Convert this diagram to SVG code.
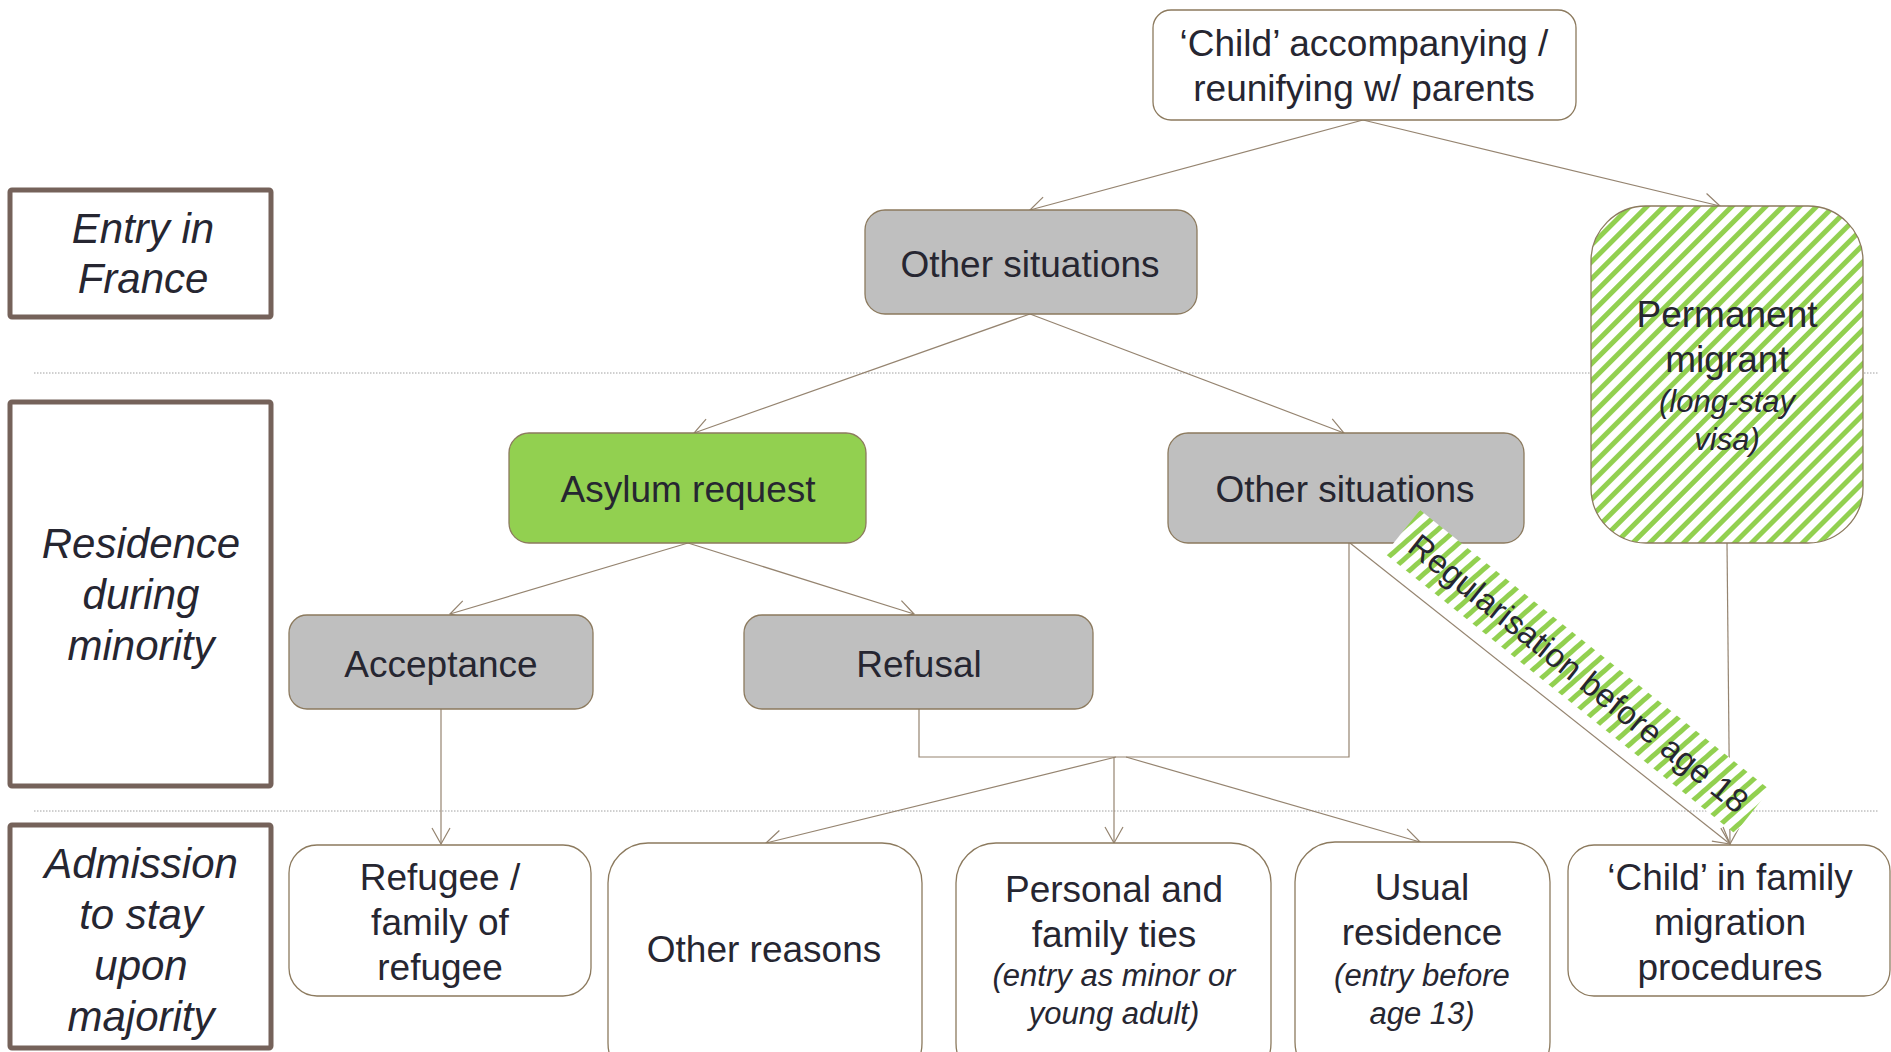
<svg xmlns="http://www.w3.org/2000/svg" width="1891" height="1052" viewBox="0 0 1891 1052">
<defs>
<style>
.t{font-family:"Liberation Sans",Arial,sans-serif;fill:#262631;text-anchor:middle;font-size:37px}
.i{font-style:italic;font-size:31px}
.lbl{font-family:"Liberation Sans",Arial,sans-serif;fill:#262631;text-anchor:middle;font-size:42px;font-style:italic}
.box{stroke:#8C7A5E;stroke-width:1.3}
.gray{fill:#BFBFBF}
.white{fill:#FFFFFF}
.lab{fill:#FFFFFF;stroke:#75625A;stroke-width:5}
.con{fill:none;stroke:#958470;stroke-width:1.2}
.dot{stroke:#A0A0A0;stroke-width:1;stroke-dasharray:1.5 1.5}
</style>
<marker id="arr" markerUnits="userSpaceOnUse" markerWidth="24" markerHeight="24" viewBox="-20 -12 24 24" refX="0" refY="0" orient="auto">
<path d="M-16,-9 L0,0 L-16,9" fill="none" stroke="#958470" stroke-width="1.2"/>
</marker>
<pattern id="stripes" patternUnits="userSpaceOnUse" width="12" height="12" patternTransform="rotate(45)">
<rect width="12" height="12" fill="#FFFFFF"/>
<rect width="5" height="12" fill="#92D050"/>
</pattern>
<pattern id="bandStripes" patternUnits="userSpaceOnUse" width="12" height="12" patternTransform="rotate(10)">
<rect width="12" height="12" fill="#FFFFFF"/>
<rect width="5" height="12" fill="#92D050"/>
</pattern>
</defs>

<g id="guides">
<line class="dot" x1="34" y1="373" x2="1878" y2="373"/>
<line class="dot" x1="34" y1="811" x2="1878" y2="811"/>
</g>

<g id="connectors">
<path class="con" d="M1363,120 L1030,210" marker-end="url(#arr)"/>
<path class="con" d="M1363,120 L1720,206" marker-end="url(#arr)"/>
<path class="con" d="M1030,314 L694,433" marker-end="url(#arr)"/>
<path class="con" d="M1030,314 L1344,433" marker-end="url(#arr)"/>
<path class="con" d="M688,543 L450,614" marker-end="url(#arr)"/>
<path class="con" d="M688,543 L914,614" marker-end="url(#arr)"/>
<path class="con" d="M441,709 L441,844" marker-end="url(#arr)"/>
<path class="con" d="M919,709 L919,757 L1349,757 L1349,543"/>
<path class="con" d="M1116,757 L766,843" marker-end="url(#arr)"/>
<path class="con" d="M1114,757 L1114,843" marker-end="url(#arr)"/>
<path class="con" d="M1126,757 L1420,842" marker-end="url(#arr)"/>
<path class="con" d="M1350,543 L1730,844" marker-end="url(#arr)"/>
<path class="con" d="M1727,543 L1730,844" marker-end="url(#arr)"/>
</g>

<g id="label-entry">
<rect class="lab" x="10" y="190" width="261" height="127" rx="2"/>
<text class="lbl" x="143" y="243">Entry in</text>
<text class="lbl" x="143" y="293">France</text>
</g>
<g id="label-residence">
<rect class="lab" x="10" y="402" width="261" height="384" rx="2"/>
<text class="lbl" x="141" y="558">Residence</text>
<text class="lbl" x="141" y="609">during</text>
<text class="lbl" x="141" y="660">minority</text>
</g>
<g id="label-admission">
<rect class="lab" x="10" y="825" width="261" height="223" rx="2"/>
<text class="lbl" x="141" y="878">Admission</text>
<text class="lbl" x="141" y="929">to stay</text>
<text class="lbl" x="141" y="980">upon</text>
<text class="lbl" x="141" y="1031">majority</text>
</g>

<g id="node-child">
<rect class="box white" x="1153" y="10" width="423" height="110" rx="18"/>
<text class="t" x="1364" y="56">‘Child’ accompanying /</text>
<text class="t" x="1364" y="101">reunifying w/ parents</text>
</g>
<g id="node-other1">
<rect class="box gray" x="865" y="210" width="332" height="104" rx="20"/>
<text class="t" x="1030" y="277">Other situations</text>
</g>
<g id="node-permanent">
<rect class="box" fill="url(#stripes)" x="1591" y="206" width="272" height="337" rx="55"/>
<text class="t" x="1727" y="327">Permanent</text>
<text class="t" x="1727" y="372">migrant</text>
<text class="t i" x="1727" y="412">(long-stay</text>
<text class="t i" x="1727" y="450">visa)</text>
</g>
<g id="node-asylum">
<rect class="box" fill="#92D050" x="509" y="433" width="357" height="110" rx="20"/>
<text class="t" x="688" y="502">Asylum request</text>
</g>
<g id="node-other2">
<rect class="box gray" x="1168" y="433" width="356" height="110" rx="20"/>
<text class="t" x="1345" y="502">Other situations</text>
</g>
<g id="node-acceptance">
<rect class="box gray" x="289" y="615" width="304" height="94" rx="18"/>
<text class="t" x="441" y="677">Acceptance</text>
</g>
<g id="node-refusal">
<rect class="box gray" x="744" y="615" width="349" height="94" rx="18"/>
<text class="t" x="919" y="677">Refusal</text>
</g>
<g id="node-refugee">
<rect class="box white" x="289" y="845" width="302" height="151" rx="28"/>
<text class="t" x="440" y="890">Refugee /</text>
<text class="t" x="440" y="935">family of</text>
<text class="t" x="440" y="980">refugee</text>
</g>
<g id="node-otherreasons">
<rect class="box white" x="608" y="843" width="314" height="240" rx="40"/>
<text class="t" x="764" y="962">Other reasons</text>
</g>
<g id="node-personal">
<rect class="box white" x="956" y="843" width="315" height="240" rx="40"/>
<text class="t" x="1114" y="902">Personal and</text>
<text class="t" x="1114" y="947">family ties</text>
<text class="t i" x="1114" y="986">(entry as minor or</text>
<text class="t i" x="1114" y="1024">young adult)</text>
</g>
<g id="node-usual">
<rect class="box white" x="1295" y="842" width="255" height="240" rx="40"/>
<text class="t" x="1422" y="900">Usual</text>
<text class="t" x="1422" y="945">residence</text>
<text class="t i" x="1422" y="986">(entry before</text>
<text class="t i" x="1422" y="1024">age 13)</text>
</g>
<g id="node-familymigration">
<rect class="box white" x="1568" y="845" width="322" height="151" rx="26"/>
<text class="t" x="1730" y="890">‘Child’ in family</text>
<text class="t" x="1730" y="935">migration</text>
<text class="t" x="1730" y="980">procedures</text>
</g>

<g id="band-regularisation" transform="translate(1420,510) rotate(38.66)">
<rect x="0" y="0" width="448" height="56" fill="url(#bandStripes)"/>
<text class="t" x="226" y="40" style="font-size:33px">Regularisation before age 18</text>
</g>
</svg>
